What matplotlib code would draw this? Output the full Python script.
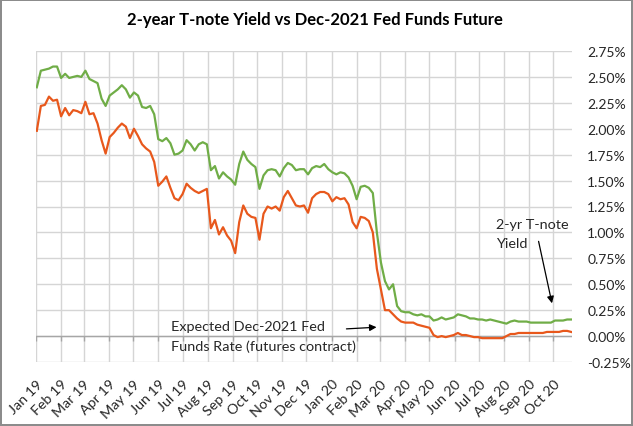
import pandas as pd
import matplotlib
matplotlib.use('Agg')
import matplotlib.pyplot as plt
import matplotlib.dates as mdates
from matplotlib.ticker import PercentFormatter, MultipleLocator

plt.rcParams['font.family'] = ['Lato', 'DejaVu Sans']
plt.rcParams['axes.unicode_minus'] = False

# observations every 5 days, 2019-01-02 .. 2020-10-23
dates = pd.date_range('2019-01-02', periods=133, freq='5D')

# 2-year T-note yield (%)
tnote_2yr = [
    2.40, 2.56, 2.57, 2.58, 2.60, 2.60, 2.49, 2.53, 2.49, 2.50,
    2.51, 2.50, 2.56, 2.48, 2.46, 2.44, 2.29, 2.22, 2.32, 2.35,
    2.38, 2.42, 2.38, 2.30, 2.35, 2.32, 2.21, 2.20, 2.22, 2.14,
    1.90, 1.88, 1.91, 1.86, 1.75, 1.76, 1.79, 1.89, 1.85, 1.79,
    1.85, 1.87, 1.85, 1.60, 1.64, 1.52, 1.58, 1.54, 1.51, 1.46,
    1.66, 1.78, 1.70, 1.66, 1.63, 1.42, 1.55, 1.60, 1.61, 1.60,
    1.54, 1.62, 1.67, 1.65, 1.60, 1.61, 1.61, 1.56, 1.62, 1.64,
    1.63, 1.66, 1.61, 1.58, 1.56, 1.58, 1.57, 1.53, 1.45, 1.32,
    1.44, 1.45, 1.43, 1.38, 1.00, 0.71, 0.53, 0.45, 0.50, 0.29,
    0.24, 0.23, 0.23, 0.21, 0.20, 0.21, 0.19, 0.19, 0.15, 0.16,
    0.18, 0.16, 0.17, 0.18, 0.21, 0.20, 0.19, 0.17, 0.17, 0.16,
    0.16, 0.15, 0.16, 0.15, 0.14, 0.13, 0.12, 0.14, 0.15, 0.14,
    0.14, 0.14, 0.13, 0.13, 0.13, 0.13, 0.13, 0.13, 0.15, 0.15,
    0.15, 0.16, 0.16,
]

# expected Dec-2021 fed funds rate implied by futures (%)
ff_dec21 = [
    1.98, 2.22, 2.23, 2.31, 2.27, 2.28, 2.12, 2.20, 2.13, 2.18,
    2.17, 2.15, 2.26, 2.14, 2.15, 2.05, 1.89, 1.76, 1.92, 1.96,
    2.01, 2.05, 2.02, 1.91, 2.00, 1.93, 1.85, 1.81, 1.78, 1.68,
    1.45, 1.49, 1.54, 1.43, 1.33, 1.31, 1.37, 1.47, 1.43, 1.40,
    1.38, 1.40, 1.42, 1.04, 1.12, 0.98, 1.05, 0.97, 0.92, 0.80,
    1.10, 1.26, 1.18, 1.15, 1.14, 0.93, 1.18, 1.25, 1.23, 1.25,
    1.21, 1.34, 1.40, 1.33, 1.26, 1.25, 1.26, 1.19, 1.33, 1.37,
    1.39, 1.39, 1.37, 1.30, 1.34, 1.32, 1.33, 1.27, 1.10, 1.04,
    1.15, 1.14, 1.11, 1.00, 0.65, 0.45, 0.25, 0.25, 0.21, 0.17,
    0.14, 0.13, 0.13, 0.13, 0.11, 0.10, 0.09, 0.08, 0.01, -0.01,
    0.00, -0.01, 0.00, 0.01, 0.03, 0.01, 0.01, 0.00, -0.01, -0.01,
    -0.02, -0.02, -0.02, -0.02, -0.02, -0.02, 0.00, 0.02, 0.02, 0.03,
    0.03, 0.03, 0.03, 0.03, 0.03, 0.03, 0.04, 0.04, 0.04, 0.04,
    0.05, 0.05, 0.04,
]

title = '2-year T-note Yield vs Dec-2021 Fed Funds Future'
label_tnote = '2-yr T-note\nYield'
label_ff = 'Expected Dec-2021 Fed\nFunds Rate (futures contract)'

grid_c = '#d5d5d5'
text_c = '#262626'

fig = plt.figure(figsize=(6.33, 4.27), dpi=100)
fig.patch.set_edgecolor('#8c8c8c')
fig.patch.set_linewidth(1.5)
ax = fig.add_axes([36 / 633, 1 - 363 / 427, 536 / 633, 311 / 427])

ax.plot(dates, tnote_2yr, color='#70ad47', lw=1.6, zorder=3)
ax.plot(dates, ff_dec21, color='#e8581c', lw=1.6, zorder=3)

x0, x1 = pd.Timestamp('2019-01-01'), pd.Timestamp('2020-10-24')
ax.set_xlim(x0, x1)
ax.set_ylim(-0.25, 2.75)

# y axis on the right
ax.yaxis.tick_right()
ax.yaxis.set_major_locator(MultipleLocator(0.25))
ax.yaxis.set_major_formatter(PercentFormatter(xmax=100, decimals=2))
ax.tick_params(axis='y', length=0, pad=11, labelsize=10, labelcolor=text_c)

# month labels at the bottom
ax.xaxis.set_major_locator(mdates.MonthLocator())
ax.xaxis.set_major_formatter(mdates.DateFormatter('%b %y'))
ax.tick_params(axis='x', length=0, pad=11, labelsize=10.3, labelcolor=text_c)
for lbl in ax.get_xticklabels():
    lbl.set_rotation(45)
    lbl.set_ha('right')
    lbl.set_rotation_mode('anchor')
for s in ax.spines.values():
    s.set_visible(False)

ax.grid(True, color=grid_c, lw=1.0)
ax.set_axisbelow(True)

# horizontal axis line at 0% with small tick marks under it
ax.axhline(0, color='#a6a6a6', lw=1, zorder=2)
months = pd.date_range(x0, x1, freq='MS')
ax.vlines(months, -0.045, 0, color='#a6a6a6', lw=1, zorder=2)

fig.text(315 / 633, 1 - 20 / 427, title, ha='center', va='center',
         fontsize=12, fontweight='bold', color='black')

# annotations
ax.text(pd.Timestamp('2020-07-22'), 0.985, label_tnote, fontsize=10.4,
        color=text_c, va='center', ha='left', linespacing=1.7)
ax.annotate('', xy=(pd.Timestamp('2020-09-30'), 0.29),
            xytext=(pd.Timestamp('2020-09-12'), 0.94),
            arrowprops=dict(arrowstyle='-|>', color='black', lw=0.9,
                            mutation_scale=10))

ax.text(pd.Timestamp('2019-06-17'), 0.0, label_ff, fontsize=10.4,
        color=text_c, va='center', ha='left', linespacing=1.7)
ax.annotate('', xy=(pd.Timestamp('2020-02-29'), 0.087),
            xytext=(pd.Timestamp('2020-01-16'), 0.068),
            arrowprops=dict(arrowstyle='-|>', color='black', lw=0.9,
                            mutation_scale=10))

fig.savefig('out.png', dpi=100, edgecolor=fig.get_edgecolor())
